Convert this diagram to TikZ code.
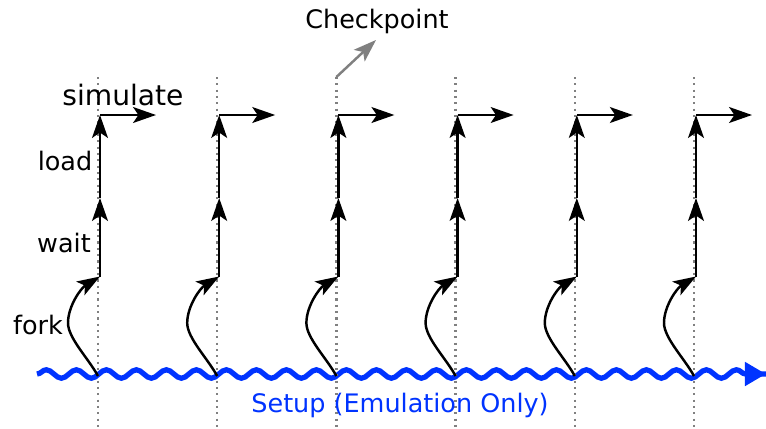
\documentclass[tikz,border=0pt]{standalone}
\usepackage{fontspec}
\setmainfont{DejaVu Sans}
\usetikzlibrary{arrows.meta,decorations.pathmorphing}
\definecolor{setupblue}{RGB}{0,51,255}

\begin{document}
\begin{tikzpicture}[line width=1.4pt]
    \tikzstyle{flow}=[-{Stealth[length=13pt,width=9pt,inset=3pt]}]
    \tikzstyle{timeline}=[gray,line width=1.4pt,dash pattern=on 1.2pt off 2.4pt]
    \tikzstyle{setup}=[setupblue,line width=3pt,
        decorate,decoration={snake,segment length=0.6cm,amplitude=0.085cm,post length=0.3cm}]
    \tikzstyle{annot}=[inner sep=0pt]
    \useasboundingbox (0,0) rectangle (15.32,8.56);

    % Setup line along the bottom
    \coordinate (S-start) at (0.74,1.08);
    \coordinate (S-end) at (15.32,1.08);
    \draw[setup] (S-start) -- (S-end);
    \draw[setupblue,line width=3pt,-{Stealth[length=12pt,width=13pt,inset=0pt]}] (15.0,1.08) -- (S-end);

    % One column per run
    \foreach \name / \x in {1/1.96,2/4.344,3/6.728,4/9.112,5/11.496,6/13.88}
    {
        \coordinate (T-\name) at (\x,7.02);
        \coordinate (B-\name) at (\x,0);
        \coordinate (F-\name) at (\x,1.04);
        \coordinate (K-\name) at ({\x-0.6},2.1);
        \coordinate (W-\name) at ({\x+0.04},3.03);
        \coordinate (L-\name) at ({\x+0.04},4.6);
        \coordinate (R-\name) at ({\x+0.04},6.26);
        \coordinate (E-\name) at ({\x+1.16},6.26);
        \draw[timeline] (T-\name) -- (B-\name);
        \draw[flow] (F-\name) .. controls ({\x-0.19},1.39) and ({\x-0.6},1.8) .. (K-\name)
                              .. controls ({\x-0.6},2.44) and ({\x-0.34},2.8) .. (W-\name);
        \draw[flow] (W-\name) -- (L-\name);
        \draw[flow] (L-\name) -- (R-\name);
        \draw[flow] (R-\name) -- (E-\name);
    }

    % Annotate the steps
    \node[annot] (sim) at (2.46,6.66) {\fontsize{16pt}{18pt}\selectfont simulate};
    \node[annot] (load) at (1.3,5.34) {\fontsize{14.5pt}{17pt}\selectfont load};
    \node[annot] (wait) at (1.28,3.7) {\fontsize{14.5pt}{17pt}\selectfont wait};
    \node[annot] (fork) at (0.76,2.06) {\fontsize{14.5pt}{17pt}\selectfont fork};
    \node[annot] (chk) at (7.54,8.14) {\fontsize{14.5pt}{17pt}\selectfont Checkpoint};
    \coordinate (chk-tip) at (7.52,7.76);
    \draw[gray,flow] (T-3) -- (chk-tip);
    \node[annot,text=setupblue] (setup) at (8.0,0.46) {\fontsize{14.5pt}{17pt}\selectfont Setup (Emulation Only)};
\end{tikzpicture}
\end{document}
